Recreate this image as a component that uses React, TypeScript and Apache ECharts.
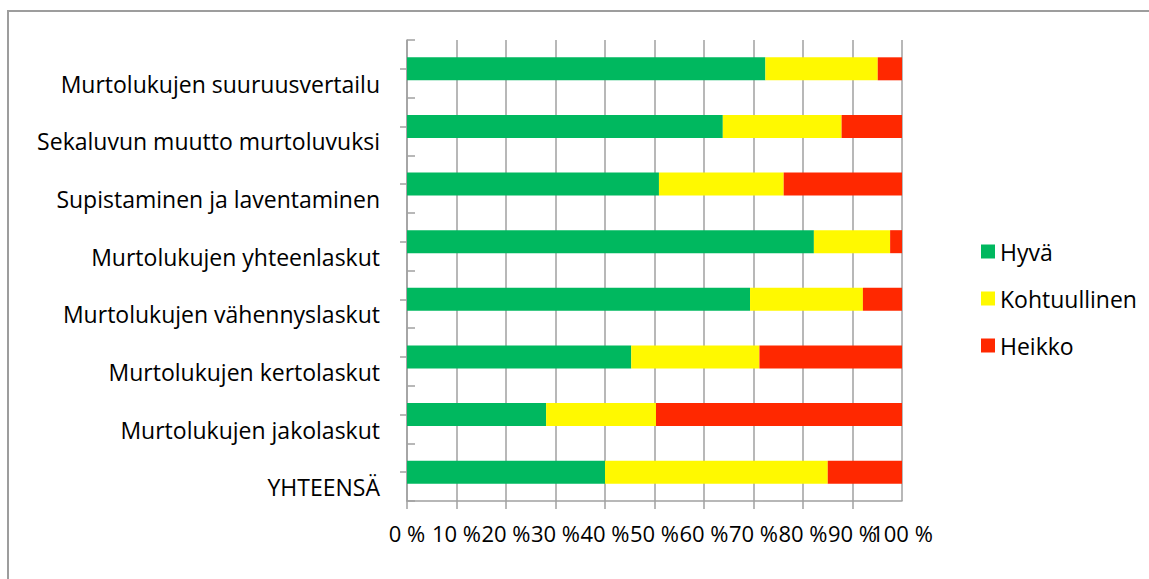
import React, { useEffect, useRef } from "react";
import * as echarts from "echarts";

const categories = [
  "Murtolukujen suuruusvertailu",
  "Sekaluvun muutto murtoluvuksi",
  "Supistaminen ja laventaminen",
  "Murtolukujen yhteenlaskut",
  "Murtolukujen vähennyslaskut",
  "Murtolukujen kertolaskut",
  "Murtolukujen jakolaskut",
  "YHTEENSÄ",
];
const hyva = [72.4, 63.8, 50.9, 82.2, 69.3, 45.3, 28.1, 40.0];
const kohtuullinen = [22.7, 24.0, 25.2, 15.4, 22.8, 25.9, 22.2, 45.0];
const heikko = [4.9, 12.2, 23.9, 2.4, 7.9, 28.8, 49.7, 15.0];
const seriesNames = ["Hyvä", "Kohtuullinen", "Heikko"];
const colors = ["#00B85F", "#FFF900", "#FF2800"];

const FONT = "'Open Sans', sans-serif";
const GRAY = "#a0a0a0";
const FS = 23;
const XFS = 22;

export default function App() {
  const ref = useRef<HTMLDivElement>(null);
  useEffect(() => {
    document.body.style.margin = "0";
    if (!ref.current) return;
    const chart = echarts.init(ref.current, null, { renderer: "svg" });
    const values = [hyva, kohtuullinen, heikko];
    const xLabel = {
      fontFamily: FONT,
      fontSize: XFS,
      color: "#000",
      margin: 21,
      hideOverlap: false,
    };
    chart.setOption({
      animation: false,
      backgroundColor: "#ffffff",
      textStyle: { fontFamily: FONT },
      graphic: [
        {
          type: "rect",
          shape: { x: 8, y: 11, width: 1300, height: 800 },
          style: { fill: "none", stroke: "#9d9d9d", lineWidth: 2 },
          silent: true,
        },
      ],
      grid: { left: 407, right: 247, top: 40, bottom: 78, containLabel: false },
      legend: {
        orient: "vertical",
        left: 976,
        top: 235,
        itemWidth: 14,
        itemHeight: 14,
        itemGap: 24,
        icon: "rect",
        data: seriesNames,
        textStyle: {
          fontFamily: FONT,
          fontSize: FS,
          color: "#000",
        },
      },
      xAxis: [
        {
          type: "value",
          min: 0,
          max: 100,
          interval: 10,
          axisLine: { show: true, lineStyle: { color: GRAY, width: 1.5 } },
          axisTick: { show: true, length: 8, lineStyle: { color: GRAY, width: 1.5 } },
          splitLine: { show: true, lineStyle: { color: GRAY, width: 1.5 } },
          axisLabel: {
            ...xLabel,
            formatter: (v: number) => `${v} %`,
            showMinLabel: true,
            showMaxLabel: false,
          },
        },
        {
          type: "value",
          position: "bottom",
          offset: 0,
          min: 0,
          max: 100,
          interval: 10,
          axisLine: { show: false },
          axisTick: { show: false },
          splitLine: { show: false },
          axisLabel: {
            ...xLabel,
            formatter: (v: number) => (v === 100 ? `${v} %` : ""),
            showMinLabel: false,
            showMaxLabel: true,
          },
        },
      ],
      yAxis: [
        {
          type: "category",
          data: categories,
          inverse: true,
          axisLine: { show: true, lineStyle: { color: GRAY, width: 1.5 } },
          axisTick: {
            show: true,
            inside: true,
            length: 8,
            interval: 0,
            lineStyle: { color: GRAY, width: 1.5 },
          },
          axisLabel: {
            fontFamily: FONT,
            fontSize: FS,
            color: "#000",
            margin: 27,
            interval: 0,
            verticalAlign: "top",
            lineHeight: 30,
          },
        },
        {
          type: "category",
          data: categories,
          inverse: true,
          position: "left",
          axisLine: { show: false },
          axisTick: {
            show: true,
            inside: false,
            alignWithLabel: true,
            length: 7,
            interval: 0,
            lineStyle: { color: GRAY, width: 1.5 },
          },
          axisLabel: { show: false },
          splitLine: { show: false },
        },
      ],
      series: seriesNames.map((name, i) => ({
        name,
        type: "bar",
        stack: "total",
        xAxisIndex: 0,
        yAxisIndex: 0,
        barWidth: 23,
        data: values[i],
        itemStyle: { color: colors[i] },
      })),
    });
    return () => chart.dispose();
  }, []);
  return <div ref={ref} style={{ width: 1149, height: 579 }} />;
}
